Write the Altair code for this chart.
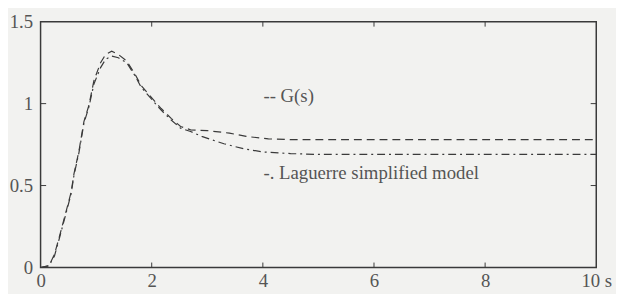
import altair as alt
import pandas as pd

# --- data ---
t_g = [0, 0.15, 0.25, 0.34, 0.45, 0.55, 0.6, 0.69, 0.78, 0.87, 0.96, 1.08, 1.17, 1.28,
       1.4, 1.55, 1.7, 1.81, 1.99, 2.17, 2.35, 2.52, 2.7, 3.0, 3.4, 3.7, 4.1, 4.5,
       5, 6, 7, 8, 9, 10]
g_vals = [0, 0.01, 0.08, 0.19, 0.33, 0.46, 0.57, 0.71, 0.89, 0.99, 1.14, 1.25, 1.30, 1.32,
          1.30, 1.26, 1.18, 1.11, 1.04, 0.97, 0.91, 0.86, 0.84, 0.835, 0.82, 0.80, 0.785, 0.78,
          0.78, 0.78, 0.78, 0.78, 0.78, 0.78]

t_l = [0, 0.15, 0.25, 0.34, 0.45, 0.55, 0.6, 0.69, 0.78, 0.87, 0.96, 1.08, 1.17, 1.28,
       1.4, 1.55, 1.7, 1.81, 1.99, 2.17, 2.35, 2.52, 2.7, 2.9, 3.3, 3.65, 4.0, 4.5,
       5, 6, 7, 8, 9, 10]
l_vals = [0, 0.01, 0.07, 0.18, 0.32, 0.45, 0.56, 0.70, 0.88, 0.98, 1.12, 1.22, 1.27, 1.29,
          1.28, 1.25, 1.17, 1.10, 1.03, 0.96, 0.90, 0.85, 0.83, 0.80, 0.755, 0.725, 0.705, 0.695,
          0.69, 0.69, 0.69, 0.69, 0.69, 0.69]

x_ticks = [0, 2, 4, 6, 8, 10]
y_ticks = [0, 0.5, 1, 1.5]

labels = ["-- G(s)", "-. Laguerre simplified model"]
label_x = [4.01, 4.01]
label_y = [1.01, 0.537]

INK = "#3a3a3a"
TXT = "#555555"
FONT = "'Liberation Serif', 'DejaVu Serif', 'Times New Roman', serif"

df = pd.concat([
    pd.DataFrame({"t": t_g, "y": g_vals, "series": "G"}),
    pd.DataFrame({"t": t_l, "y": l_vals, "series": "L"}),
])

xs = alt.Scale(domain=[0, 10], nice=False)
ys = alt.Scale(domain=[0, 1.5], nice=False)

x_axis = alt.Axis(values=x_ticks, labelExpr="datum.value == 10 ? '   10 s' : '' + datum.value",
                  ticks=False, domain=False, grid=False, title=None,
                  labelFont=FONT, labelFontSize=19, labelColor=TXT, labelPadding=4,
                  labelFlush=False)
y_axis = alt.Axis(values=y_ticks, labelExpr="'' + datum.value",
                  ticks=False, domain=False, grid=False, title=None,
                  labelFont=FONT, labelFontSize=19, labelColor=TXT, labelPadding=8)

g_line = alt.Chart(df[df.series == "G"]).mark_line(
    color=INK, strokeWidth=1.2, strokeDash=[8, 5]
).encode(x=alt.X("t:Q", scale=xs, axis=x_axis), y=alt.Y("y:Q", scale=ys, axis=y_axis))

l_line = alt.Chart(df[df.series == "L"]).mark_line(
    color=INK, strokeWidth=1.2, strokeDash=[8, 4, 2, 4]
).encode(x=alt.X("t:Q", scale=xs), y=alt.Y("y:Q", scale=ys))

xt = pd.DataFrame({"v": x_ticks[1:-1]})
yt = pd.DataFrame({"v": y_ticks[1:-1]})

bottom_ticks = alt.Chart(xt).mark_rule(color=INK, strokeWidth=1).encode(
    x=alt.X("v:Q", scale=xs), y=alt.datum(0), y2=alt.datum(0.03))
top_ticks = alt.Chart(xt).mark_rule(color=INK, strokeWidth=1).encode(
    x=alt.X("v:Q", scale=xs), y=alt.datum(1.5), y2=alt.datum(1.47))
left_ticks = alt.Chart(yt).mark_rule(color=INK, strokeWidth=1).encode(
    y=alt.Y("v:Q", scale=ys), x=alt.datum(0), x2=alt.datum(0.1))
right_ticks = alt.Chart(yt).mark_rule(color=INK, strokeWidth=1).encode(
    y=alt.Y("v:Q", scale=ys), x=alt.datum(10), x2=alt.datum(9.9))

txt = alt.Chart(pd.DataFrame({"x": label_x, "y": label_y, "s": labels})).mark_text(
    align="left", baseline="alphabetic", font=FONT, fontSize=19, color=TXT
).encode(x=alt.X("x:Q", scale=xs), y=alt.Y("y:Q", scale=ys), text="s:N")

chart = alt.layer(g_line, l_line, bottom_ticks, top_ticks, left_ticks, right_ticks, txt).properties(
    width=563, height=249,
    autosize=alt.AutoSizeParams(type="none"),
    padding={"left": 33, "top": 12, "right": 20, "bottom": 25},
    background="#f2f2f0",
).configure_view(stroke=INK, strokeWidth=1.5)

chart.save("out.html", embed_options={"renderer": "svg", "actions": False})
